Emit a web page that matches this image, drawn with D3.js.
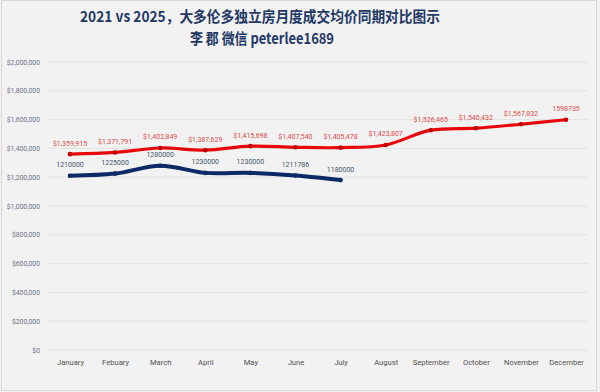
<!DOCTYPE html>
<html>
<head>
<meta charset="utf-8">
<script src="https://cdn.jsdelivr.net/npm/d3@7"></script>
<style>
  html, body { margin: 0; padding: 0; background: #f2f2f2; }
  svg { display: block; }
</style>
</head>
<body>
<svg id="chart"></svg>
<script>
const width = 600;
const height = 392;

const months = ["January", "Febuary", "March", "April", "May", "June", "July",
    "August", "September", "October", "November", "December"];
const prices2025 = [1210000, 1225000, 1280000, 1230000, 1230000, 1211786, 1180000];
const prices2021 = [1359915, 1371791, 1402849, 1387629, 1415698, 1407540, 1405478,
    1423807, 1526465, 1540432, 1567832, 1598735];
// labels exactly as written on the chart
const labels2021 = ["$1,359,915", "$1,371,791", "$1,402,849", "$1,387,629", "$1,415,698",
    "$1,407,540", "$1,405,478", "$1,423,807", "$1,526,465", "$1,540,432", "$1,567,832", "1598735"];
const yTicks = [0, 200000, 400000, 600000, 800000, 1000000, 1200000, 1400000, 1600000, 1800000, 2000000];

const svg = d3.select("#chart")
    .attr("width", width)
    .attr("height", height);

svg.append("rect")
    .attr("x", 1.5).attr("y", 0.5)
    .attr("width", width - 5).attr("height", height - 2)
    .attr("fill", "#f2f2f2")
    .attr("stroke", "#d9d9d9");

const x = d3.scalePoint()
    .domain(months)
    .range([70, 566]);

const y = d3.scaleLinear()
    .domain([0, 2000000])
    .range([350, 62]);

// gridlines
svg.append("g")
    .selectAll("line")
    .data(yTicks)
    .join("line")
    .attr("x1", 48).attr("x2", 588)
    .attr("y1", d => y(d)).attr("y2", d => y(d))
    .attr("stroke", "#e2e2e2")
    .attr("stroke-width", 1);

// y axis
const yAxis = svg.append("g")
    .attr("transform", "translate(40,0)")
    .call(d3.axisLeft(y).tickValues(yTicks).tickSize(0).tickPadding(0)
        .tickFormat(d => "$" + d3.format(",")(d)));
yAxis.select(".domain").remove();
yAxis.selectAll("text")
    .attr("font-family", "Roboto, 'Noto Sans', sans-serif")
    .attr("font-size", 6.8)
    .attr("fill", "#6a7386");

// x axis
const xAxis = svg.append("g")
    .attr("transform", "translate(0,360)")
    .call(d3.axisBottom(x).tickSize(0).tickPadding(0));
xAxis.select(".domain").remove();
xAxis.selectAll("text")
    .attr("dy", "0.71em")
    .attr("font-family", "Roboto, 'Noto Sans', sans-serif")
    .attr("font-size", 7.6)
    .attr("fill", "#505050");

const line = d3.line()
    .x(d => x(d.m))
    .y(d => y(d.v))
    .curve(d3.curveCatmullRom.alpha(0.5));

const data2021 = prices2021.map((v, i) => ({ m: months[i], v: v, t: labels2021[i] }));
const data2025 = prices2025.map((v, i) => ({ m: months[i], v: v, t: String(v) }));

// 2021 series (red)
svg.append("path")
    .datum(data2021)
    .attr("d", line)
    .attr("fill", "none")
    .attr("stroke", "#e8080c")
    .attr("stroke-width", 3.2)
    .attr("stroke-linecap", "round");
svg.append("g")
    .selectAll("circle")
    .data(data2021)
    .join("circle")
    .attr("cx", d => x(d.m)).attr("cy", d => y(d.v))
    .attr("r", 2.3)
    .attr("fill", "#c00000");
svg.append("g")
    .selectAll("text")
    .data(data2021)
    .join("text")
    .attr("x", d => x(d.m)).attr("y", d => y(d.v) - 8.5)
    .attr("text-anchor", "middle")
    .attr("font-family", "Roboto, 'Noto Sans', sans-serif")
    .attr("font-size", 7)
    .attr("fill", "#e04848")
    .text(d => d.t);

// 2025 series (navy)
svg.append("path")
    .datum(data2025)
    .attr("d", line)
    .attr("fill", "none")
    .attr("stroke", "#0c2a66")
    .attr("stroke-width", 4)
    .attr("stroke-linecap", "round");
svg.append("g")
    .selectAll("circle")
    .data(data2025)
    .join("circle")
    .attr("cx", d => x(d.m)).attr("cy", d => y(d.v))
    .attr("r", 2.3)
    .attr("fill", "#0c2a66");
svg.append("g")
    .selectAll("text")
    .data(data2025)
    .join("text")
    .attr("x", d => x(d.m)).attr("y", d => y(d.v) - 8.5)
    .attr("text-anchor", "middle")
    .attr("font-family", "Roboto, 'Noto Sans', sans-serif")
    .attr("font-size", 7)
    .attr("fill", "#44546a")
    .text(d => d.t);

// title
svg.append("text")
    .attr("x", 260).attr("y", 22)
    .attr("text-anchor", "middle")
    .attr("font-family", "'Noto Sans CJK SC', sans-serif")
    .attr("font-weight", "bold")
    .attr("font-size", 15)
    .attr("fill", "#1f3864")
    .attr("textLength", 360)
    .attr("lengthAdjust", "spacingAndGlyphs")
    .text("2021 vs 2025，大多伦多独立房月度成交均价同期对比图示");
svg.append("text")
    .attr("x", 262).attr("y", 44)
    .attr("text-anchor", "middle")
    .attr("font-family", "'Noto Sans CJK SC', sans-serif")
    .attr("font-weight", "bold")
    .attr("font-size", 15)
    .attr("fill", "#1f3864")
    .attr("textLength", 144)
    .attr("lengthAdjust", "spacingAndGlyphs")
    .text("李 郡 微信 peterlee1689");
</script>
</body>
</html>
